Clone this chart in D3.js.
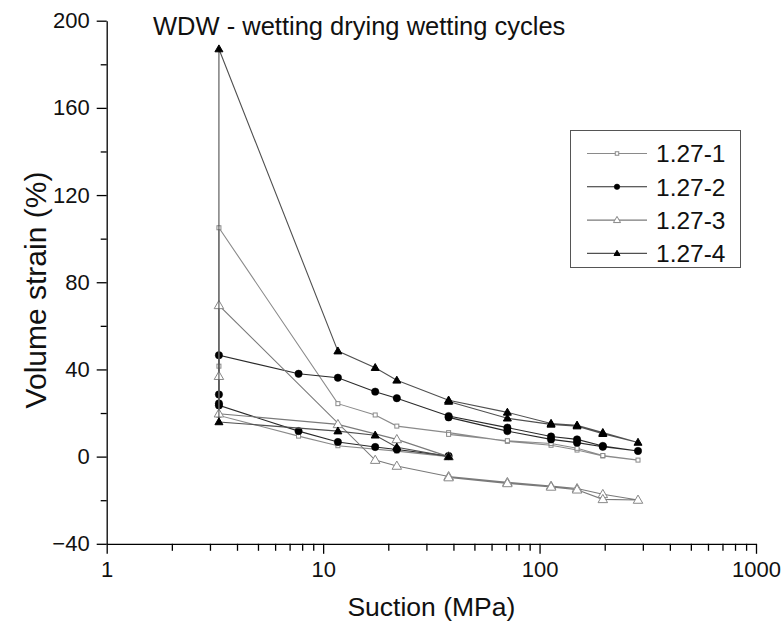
<!DOCTYPE html>
<html>
<head>
<meta charset="utf-8">
<script src="https://cdn.jsdelivr.net/npm/d3@7"></script>
<style>
  html, body { margin: 0; padding: 0; background: #fff; }
  svg { display: block; font-family: "Liberation Sans", Arial, sans-serif; }
</style>
</head>
<body>
<svg id="chart" width="783" height="631"></svg>
<script>
// ---- data (path order: wetting -> drying -> wetting) ----
const seriesNames = ["1.27-1", "1.27-2", "1.27-3", "1.27-4"];

const s1Suction = [38, 21.9, 11.7, 7.7, 3.3, 3.3, 3.3, 11.7, 17.4, 21.9, 38, 71, 113, 149, 196, 285, 196, 149, 113, 71, 38];
const s1Strain  = [0, 2.5, 5.0, 9.4, 18.9, 41.5, 105, 24.3, 19.1, 14.0, 11.0, 7.0, 5.2, 3.0, 0.3, -1.6, 0.5, 3.8, 6.0, 7.3, 10.2];

const s2Suction = [38, 21.9, 17.4, 11.7, 7.7, 3.3, 3.3, 3.3, 3.3, 7.7, 11.7, 17.4, 21.9, 38, 71, 113, 149, 196, 285, 196, 149, 113, 71, 38];
const s2Strain  = [0.3, 3.3, 4.4, 6.7, 11.7, 23.5, 24.4, 28.5, 46.5, 38.0, 36.2, 29.8, 26.8, 18.6, 13.3, 9.2, 7.9, 4.9, 2.6, 4.5, 6.4, 7.9, 11.7, 18.0];

const s3Suction = [38, 21.9, 11.7, 3.3, 3.3, 3.3, 17.4, 21.9, 38, 71, 113, 149, 196, 285, 196, 149, 113, 71, 38];
const s3Strain  = [0, 7.9, 14.8, 19.7, 36.9, 69.4, -1.6, -4.3, -9.1, -11.8, -13.5, -14.6, -17.3, -19.9, -19.6, -15.2, -13.9, -12.3, -9.6];

const s4Suction = [38, 21.9, 17.4, 11.7, 3.3, 3.3, 11.7, 17.4, 21.9, 38, 71, 113, 149, 196, 285, 196, 149, 113, 71, 38];
const s4Strain  = [0, 4.3, 9.8, 11.7, 15.9, 187, 48.4, 40.8, 35.0, 25.9, 20.3, 15.2, 14.4, 11.0, 6.5, 10.5, 14.0, 14.8, 17.6, 25.3];

const xMajorTicks = [1, 10, 100, 1000];
const yMajorTicks = [-40, 0, 40, 80, 120, 160, 200];
const yMinorTicks = [-20, 20, 60, 100, 140, 180];

const titleText = "WDW - wetting drying wetting cycles";
const xTitle = "Suction (MPa)";
const yTitle = "Volume strain (%)";

// ---- layout ----
const svg = d3.select("#chart");
const x = d3.scaleLog().domain([1, 1000]).range([106.7, 756]);
const y = d3.scaleLinear().domain([-40, 200]).range([543.8, 20.7]);

const xMinorTicks = [];
[1, 10, 100].forEach(d => { for (let k = 2; k <= 9; k++) xMinorTicks.push(d * k); });

const axisColor = "#000";

// X axis
const gx = svg.append("g").attr("transform", `translate(0,${y(-40)})`);
gx.call(d3.axisBottom(x).tickValues(xMinorTicks).tickSize(7).tickFormat("").tickSizeOuter(0));
gx.call(g => g.select(".domain").remove());
const gxMaj = svg.append("g").attr("transform", `translate(0,${y(-40)})`);
gxMaj.call(d3.axisBottom(x).tickValues(xMajorTicks).tickSize(10).tickSizeOuter(0).tickPadding(8)
  .tickFormat(d3.format("d")));
gxMaj.selectAll("text").attr("font-size", 22).attr("fill", "#111").attr("font-family", "Liberation Sans, Arial, sans-serif");

// Y axis
const gyMin = svg.append("g").attr("transform", `translate(${x(1)},0)`);
gyMin.call(d3.axisLeft(y).tickValues(yMinorTicks).tickSize(6).tickFormat("").tickSizeOuter(0));
gyMin.call(g => g.select(".domain").remove());
const gy = svg.append("g").attr("transform", `translate(${x(1)},0)`);
gy.call(d3.axisLeft(y).tickValues(yMajorTicks).tickSize(10).tickSizeOuter(0).tickPadding(7)
  .tickFormat(d3.format("d")));
gy.selectAll("text").attr("font-size", 22).attr("fill", "#111").attr("font-family", "Liberation Sans, Arial, sans-serif");
svg.selectAll("g line, g path").attr("stroke", axisColor).attr("stroke-width", 1.3);

// Titles
svg.append("text").attr("x", 153).attr("y", 35).attr("font-size", 25.5).attr("fill", "#111").text(titleText);
svg.append("text").attr("x", (x(1) + x(1000)) / 2).attr("y", 616).attr("text-anchor", "middle")
  .attr("font-size", 26.5).attr("fill", "#111").text(xTitle);
svg.append("text").attr("transform", `translate(46,290) rotate(-90)`)
  .attr("text-anchor", "middle").attr("font-size", 30).attr("fill", "#111").text(yTitle);

// ---- series ----
const styles = [
  { line: "#8a8a8a", sym: "square", fill: "#fff", stroke: "#8a8a8a", size: 4 },
  { line: "#2a2a2a", sym: "circle", fill: "#000", stroke: "#000", size: 7.4 },
  { line: "#7a7a7a", sym: "tri", fill: "#fff", stroke: "#888", size: 9.5 },
  { line: "#505050", sym: "tri", fill: "#000", stroke: "#000", size: 8 }
];
const seriesData = [
  s1Suction.map((s, i) => ({ s, v: s1Strain[i] })),
  s2Suction.map((s, i) => ({ s, v: s2Strain[i] })),
  s3Suction.map((s, i) => ({ s, v: s3Strain[i] })),
  s4Suction.map((s, i) => ({ s, v: s4Strain[i] }))
];

function drawSymbol(g, st, cx, cy) {
  if (st.sym === "square") {
    g.append("rect").attr("x", cx - st.size / 2).attr("y", cy - st.size / 2)
      .attr("width", st.size).attr("height", st.size)
      .attr("fill", st.fill).attr("stroke", st.stroke).attr("stroke-width", 1);
  } else if (st.sym === "circle") {
    g.append("circle").attr("cx", cx).attr("cy", cy).attr("r", st.size / 2)
      .attr("fill", st.fill).attr("stroke", st.stroke).attr("stroke-width", 0.5);
  } else {
    const a = st.size, h = a * 0.866;
    g.append("path")
      .attr("d", `M${cx},${cy - h * 0.6} L${cx + a / 2},${cy + h * 0.4} L${cx - a / 2},${cy + h * 0.4} Z`)
      .attr("fill", st.fill).attr("stroke", st.stroke).attr("stroke-width", 1);
  }
}

const line = d3.line().x(d => x(d.s)).y(d => y(d.v));
const plot = svg.append("g");
seriesData.forEach((data, i) => {
  const st = styles[i];
  const g = plot.append("g");
  g.append("path").datum(data).attr("d", line).attr("fill", "none")
    .attr("stroke", st.line).attr("stroke-width", 1.1);
  data.forEach(d => drawSymbol(g, st, x(d.s), y(d.v)));
});

// ---- legend ----
const lg = svg.append("g");
lg.append("rect").attr("x", 570.5).attr("y", 130.5).attr("width", 170).attr("height", 137)
  .attr("fill", "#fff").attr("stroke", "#555").attr("stroke-width", 1);
seriesNames.forEach((name, i) => {
  const st = styles[i];
  const ry = 153.5 + i * 33.3;
  lg.append("line").attr("x1", 587).attr("x2", 647).attr("y1", ry).attr("y2", ry)
    .attr("stroke", st.line).attr("stroke-width", 1.1);
  const small = Object.assign({}, st, { size: st.sym === "square" ? 3.5 : st.size * 0.75 });
  drawSymbol(lg, small, 617, ry);
  lg.append("text").attr("x", 656).attr("y", ry).attr("dy", "0.36em")
    .attr("font-size", 24.5).attr("fill", "#111").text(name);
});
</script>
</body>
</html>
